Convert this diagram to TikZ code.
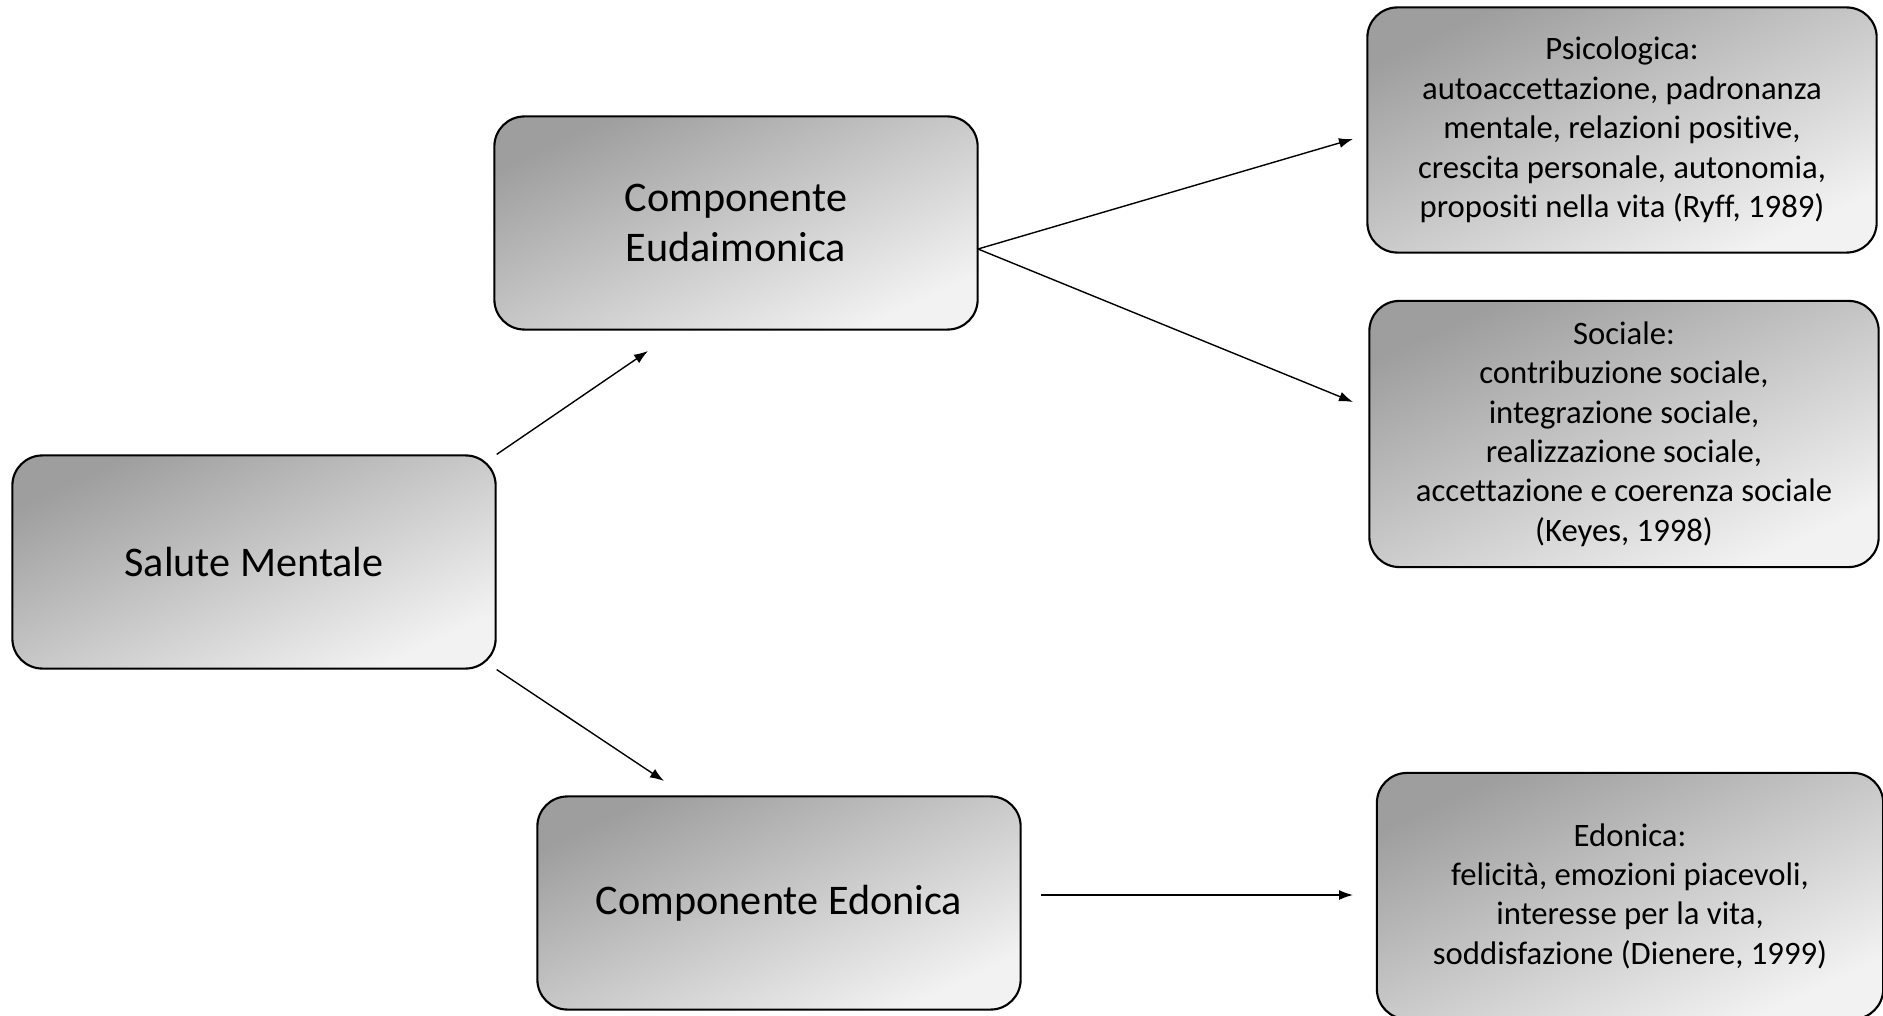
\documentclass[tikz,border=0pt]{standalone}
\usepackage{fontspec}
\setmainfont{Carlito}[Renderer=OpenType,Ligatures={NoCommon}]
\usetikzlibrary{arrows.meta}
\begin{document}
\begin{tikzpicture}[x=0.01cm,y=-0.01cm,
    box/.style={draw,line width=0.6pt,rounded corners=0.3cm,align=center,inner sep=0pt,
      top color=black!38,bottom color=black!5,shading angle=25},
    big/.style={box,minimum width=4.83cm,minimum height=2.13cm,font=\fontsize{12}{14.4}\selectfont},
    small/.style={box,minimum width=5.09cm,font=\fontsize{9.3}{11.2}\selectfont},
    link/.style={-{Latex[length=0.14cm,width=0.1cm]},line width=0.4pt}]
  \useasboundingbox (0,0) rectangle (1883,1016);
  % left and middle boxes
  \node[big] (salute) at (254,562) {Salute Mentale};
  \node[big] (eud) at (736,223) {Componente\\Eudaimonica};
  \node[big] (edon) at (779,903) {Componente Edonica};
  % right boxes
  \node[small,minimum height=2.45cm] (psi) at (1622,130)
    {Psicologica:\\ autoaccettazione, padronanza\\mentale, relazioni positive,\\crescita personale, autonomia,\\propositi nella vita (Ryff, 1989)};
  \node[small,minimum height=2.66cm] (soc) at (1624,434)
    {Sociale:\\contribuzione sociale,\\integrazione sociale,\\realizzazione sociale,\\accettazione e coerenza sociale\\(Keyes, 1998)};
  \node[small,minimum width=5.06cm,minimum height=2.46cm] (edr) at (1630,896)
    {Edonica:\\felicità, emozioni piacevoli,\\interesse per la vita,\\soddisfazione (Dienere, 1999)};
  % arrow ends
  \coordinate (eudtip) at (648,351);
  \coordinate (edontip) at (664,781);
  \coordinate (eudout) at (978,249);
  \coordinate (psitip) at (1353,139);
  \coordinate (soctip) at (1353,402);
  \coordinate (edonout) at (1041,895);
  \coordinate (edrtip) at (1353,895);
  \draw[link] (salute.north east) -- (eudtip);
  \draw[link] (salute.south east) -- (edontip);
  \draw[link] (eudout) -- (psitip);
  \draw[link] (eudout) -- (soctip);
  \draw[link] (edonout) -- (edrtip);
\end{tikzpicture}
\end{document}
